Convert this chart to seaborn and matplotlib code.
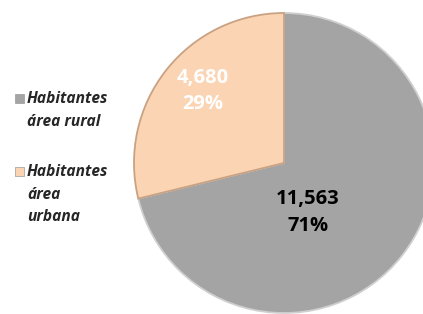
import matplotlib
matplotlib.use("Agg")
import matplotlib.pyplot as plt
from matplotlib.patches import Rectangle
import seaborn as sns

# data
categories = ["Habitantes\nárea rural", "Habitantes\nárea\nurbana"]
values = [11563, 4680]
value_labels = ["11,563", "4,680"]
colors = ["#a4a4a4", "#fbd4b3"]
edge_colors = ["#cfcfcf", "#c9a283"]
label_colors = ["black", "white"]

sns.set_theme(style="white")
plt.rcParams["font.family"] = ["Open Sans", "DejaVu Sans"]

W, H = 423, 314
fig = plt.figure(figsize=(W / 100, H / 100), dpi=100)
# pie centre about (284, 163) px, radius about 150 px
ax = fig.add_axes([134 / W, 1 / H, 300 / W, 300 / H])

wedges, _ = ax.pie(values, colors=colors, startangle=90, counterclock=False,
                   radius=1.0, wedgeprops=dict(linewidth=1.3))
for w, ec in zip(wedges, edge_colors):
    w.set_edgecolor(ec)
    w.set_clip_on(False)
ax.set_xlim(-1, 1)
ax.set_ylim(-1, 1)
ax.axis("off")

total = sum(values)
label_pos = [(0.16, -0.33), (-0.54, 0.48)]
for v, s, c, (x, y) in zip(values, value_labels, label_colors, label_pos):
    pct = round(100 * v / total)
    ax.text(x, y, f"{s}\n{pct}%", ha="center", va="center", color=c,
            fontsize=14.5, fontweight="bold", linespacing=1.42)

# legend drawn by hand so the marker sits on the first text line
legend_tops = [91, 164]  # px from top
for cat, col, top in zip(categories, colors, legend_tops):
    fig.patches.append(Rectangle((15 / W, 1 - (top + 12) / H), 9 / W, 9 / H,
                                 transform=fig.transFigure, facecolor=col,
                                 edgecolor="#9a9a9a", linewidth=0.5))
    fig.text(27 / W, 1 - top / H, cat, ha="left", va="top", fontsize=11.2,
             fontweight="bold", fontstyle="italic", linespacing=1.55)

fig.savefig("out.png", dpi=100)
